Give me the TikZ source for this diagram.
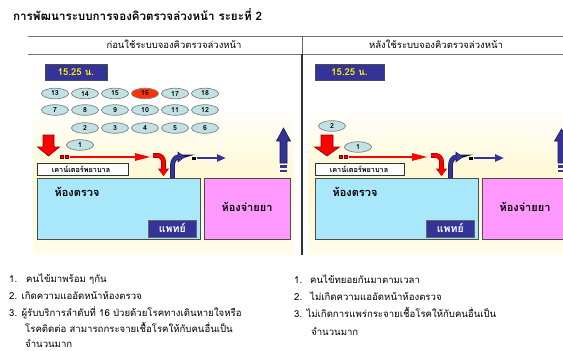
\documentclass[tikz,border=0pt]{standalone}
\usepackage{fontspec}
\setmainfont[Script=Thai]{Loma}
\usetikzlibrary{arrows.meta,shapes.geometric}
\definecolor{navy}{HTML}{333399}
\definecolor{qcyan}{HTML}{C0E2E4}
\definecolor{qred}{HTML}{FF3300}
\definecolor{roomcyan}{HTML}{A8E8FA}
\definecolor{roompink}{HTML}{FF99FF}
\definecolor{bgyellow}{HTML}{FFF8D2}
\definecolor{bgyellowlow}{HTML}{FFFCEA}
\definecolor{dred}{HTML}{8B0000}
\begin{document}
\begin{tikzpicture}[x=1pt,y=-1pt,
  qnode/.style={ellipse, draw=black!50, line width=0.7pt, fill=qcyan, minimum width=27pt, minimum height=10.5pt, inner sep=0pt, font=\fontsize{7}{7}\selectfont\bfseries},
  qhot/.style={qnode, fill=qred},
  timebox/.style={draw=black!70, line width=0.6pt, fill=navy, text=yellow, minimum height=16pt, inner sep=0pt, font=\fontsize{9.5}{9.5}\selectfont\bfseries},
  counterbox/.style={draw=black!80, line width=0.8pt, fill=white, anchor=north west, minimum width=91pt, minimum height=12pt, inner sep=0pt},
  room/.style={draw=black!70, line width=1.3pt, anchor=north west, minimum height=61pt, inner sep=0pt},
  roomlabel/.style={font=\fontsize{11}{11}\selectfont\bfseries, inner sep=0pt},
  doctor/.style={draw=black!60, line width=0.6pt, fill=navy, text=white, anchor=north west, minimum width=48pt, minimum height=17pt, inner sep=0pt, font=\fontsize{10.5}{10.5}\selectfont\bfseries},
  countertext/.style={font=\fontsize{7.3}{7.5}\selectfont\bfseries, inner sep=0pt},
  redblock/.style={fill=red, draw=dred, line width=0.6pt, line join=miter},
  blueblock/.style={fill=navy, draw=navy!50!black, line width=0.6pt, line join=miter},
  redcurve/.style={draw=red, line width=3.6pt, -{Triangle[width=9pt,length=6.5pt]},
     preaction={draw=dred, line width=4.8pt, -{Triangle[width=10.5pt,length=7.5pt]}}},
  bluecurve/.style={draw=navy, line width=3.6pt, -{Triangle[width=9pt,length=6.5pt]},
     preaction={draw=navy!50!black, line width=4.8pt, -{Triangle[width=10.5pt,length=7.5pt]}}},
  redthin/.style={draw=red, line width=2.6pt, -{Triangle[width=7pt,length=16pt]}},
  bluethin/.style={draw=navy, line width=2.4pt, -{Triangle[width=7pt,length=9pt]}},
  headtext/.style={font=\fontsize{9.5}{10}\selectfont, inner sep=0pt},
  bodytext/.style={font=\fontsize{9.6}{10}\selectfont, inner sep=0pt, anchor=base west},
  rule/.style={draw=black!55, line width=0.8pt}
]
\path[use as bounding box] (0,0) rectangle (563,351);
\clip (0,0) rectangle (563,351);
\fill[white] (0,0) rectangle (563,351);

% backgrounds
\shade[top color=white, bottom color=bgyellowlow, middle color=bgyellow] (33,105) rectangle (294,254);
\shade[top color=white, bottom color=bgyellowlow, middle color=bgyellow] (308,105) rectangle (563,254);

% title
\node[anchor=west, inner sep=0pt, font=\fontsize{11.6}{12}\selectfont\bfseries] (title) at (13,15) {การพัฒนาระบบการจองคิวตรวจล่วงหน้า ระยะที่ 2};

% table rules
\draw[rule] (28,36) -- (563,36);
\draw[rule] (28,54) -- (563,54);
\draw[draw=black!60, line width=0.8pt] (302,36) -- (302,54);
\draw[draw=black!80, line width=1.8pt] (302,54) -- (302,255);
\node[headtext] (hL) at (174,44.5) {ก่อนใช้ระบบจองคิวตรวจล่วงหน้า};
\node[headtext] (hR) at (436,44.5) {หลังใช้ระบบจองคิวตรวจล่วงหน้า};

% ===== LEFT PANEL =====
\node[timebox, minimum width=62pt] (tL) at (76,72) {15.25 น.};
\foreach \n/\x in {13/55,14/85,15/115,17/175,18/205}
  \node[qnode] (qL\n) at (\x,93.5) {\n};
\node[qhot] (qL16) at (145,93.5) {16};
\foreach \n/\x in {7/55,8/85,9/115,10/145,11/175,12/205}
  \node[qnode] (qL\n) at (\x,110) {\n};
\foreach \n/\x in {2/85,3/115,4/145,5/175,6/205}
  \node[qnode] (qL\n) at (\x,128) {\n};
\node[qnode] (qL1) at (80,145) {1};

\node[room, fill=roomcyan, minimum width=163pt] (exL) at (37,178) {};
\node[room, fill=roompink, minimum width=86pt] (phL) at (204,178) {};
\node[roomlabel] (exLt) at (77,192) {ห้องตรวจ};
\node[roomlabel] (phLt) at (247,207) {ห้องจ่ายยา};
\node[doctor] (drL) at (148,219.5) {แพทย์};
\node[counterbox] (ctL) at (37,163) {};
\node[countertext] (ctLt) at (81,169) {เคาน์เตอร์พยาบาล};

% red down block arrow
\draw[redblock] (43,135) -- (54,135) -- (54,147) -- (59.5,147) -- (48.5,156) -- (37.5,147) -- (43,147) -- cycle;
% red horizontal arrow
\fill[red, draw=dred, line width=0.3pt] (60,155.5) rectangle (63,158.5);
\fill[red, draw=dred, line width=0.3pt] (65,155.5) rectangle (68,158.5);
\draw[redthin] (70,157) -- (151,157);
% red curved arrow
\draw[redcurve] (153,155.5) -- (158,155.5) to[out=0,in=90] (163.5,162) -- (163.5,176);
% blue curved arrow
\draw[bluecurve] (172.5,178) -- (172.5,166) to[out=90,in=180] (178.5,157) -- (185,157);
% blue horizontal arrow
\fill[black] (192,156.5) rectangle (196,159.5);
\draw[bluethin] (197,158) -- (226,158);
% blue up block arrow
\draw[blueblock] (280,163) -- (287,163) -- (287,141) -- (290.5,141) -- (283.5,128) -- (276.5,141) -- (280,141) -- cycle;
\fill[navy] (280,165) rectangle (287,167.5);
\fill[navy] (280,169.5) rectangle (287,172);

% ===== RIGHT PANEL =====
\node[timebox, minimum width=69pt] (tR) at (349.5,72) {15.25 น.};
\node[qnode] (qR2) at (332,126) {2};
\node[qnode] (qR1) at (358,147) {1};

\node[room, fill=roomcyan, minimum width=163pt] (exR) at (315,178) {};
\node[room, fill=roompink, minimum width=86pt] (phR) at (482,178) {};
\node[roomlabel] (exRt) at (355,192) {ห้องตรวจ};
\node[roomlabel] (phRt) at (525,207) {ห้องจ่ายยา};
\node[doctor] (drR) at (426,219.5) {แพทย์};
\node[counterbox, minimum width=89pt] (ctR) at (315,163) {};
\node[countertext] (ctRt) at (359,169) {เคาน์เตอร์พยาบาล};

\draw[redblock] (321,135) -- (333,135) -- (333,147) -- (339.5,147) -- (327,156) -- (314.5,147) -- (321,147) -- cycle;
\fill[red, draw=dred, line width=0.3pt] (339,155.5) rectangle (342,158.5);
\fill[red, draw=dred, line width=0.3pt] (344,155.5) rectangle (347,158.5);
\draw[redthin] (349,157) -- (428,157);
\draw[redcurve] (431,155.5) -- (436,155.5) to[out=0,in=90] (441.5,162) -- (441.5,176);
\draw[bluecurve] (450.5,178) -- (450.5,166) to[out=90,in=180] (456.5,157) -- (463,157);
\fill[black] (469,156.5) rectangle (473,159.5);
\draw[bluethin] (474,158) -- (504,158);
\draw[blueblock] (558,163) -- (565,163) -- (565,141) -- (568.5,141) -- (561.5,129) -- (554.5,141) -- (558,141) -- cycle;
\fill[navy] (558,165) rectangle (565,167.5);
\fill[navy] (558,169.5) rectangle (565,172);

% ===== BOTTOM TEXT =====
\node[bodytext] (l1) at (9,282.5) {1.\hspace{9pt}คนไข้มาพร้อม ๆกัน};
\node[bodytext] (l2) at (9,299.5) {2. เกิดความแออัดหน้าห้องตรวจ};
\node[bodytext] (l3) at (9,316) {3. ผู้รับบริการลำดับที่ 16 ป่วยด้วยโรคทางเดินหายใจหรือ};
\node[bodytext] (l4) at (25,332) {โรคติดต่อ สามารถกระจายเชื้อโรคให้กับคนอื่นเป็น};
\node[bodytext] (l5) at (25,347.5) {จำนวนมาก};

\node[bodytext] (r1) at (294,283) {1.\hspace{8pt}คนไข้ทยอยกันมาตามเวลา};
\node[bodytext] (r2) at (294,300.5) {2.\hspace{8pt}ไม่เกิดความแออัดหน้าห้องตรวจ};
\node[bodytext] (r3) at (294,317.5) {3. ไม่เกิดการแพร่กระจายเชื้อโรคให้กับคนอื่นเป็น};
\node[bodytext] (r4) at (311,335.5) {จำนวนมาก};
\end{tikzpicture}
\end{document}
